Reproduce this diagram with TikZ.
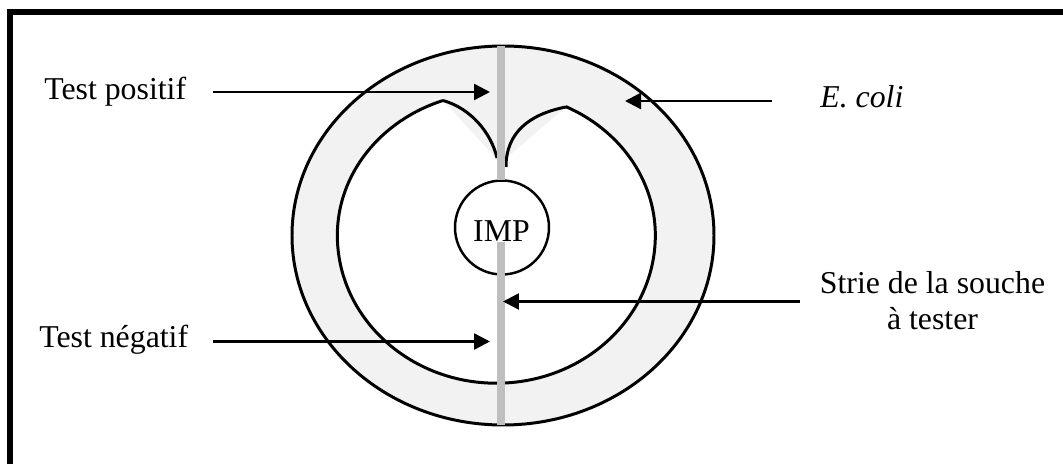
\documentclass[tikz,border=0pt]{standalone}
\usepackage{fontspec}
\setmainfont{Liberation Serif}
\usetikzlibrary{arrows.meta}
\tikzset{
  plate/.style={line width=1.7pt},
  strie/.style={line width=4.3pt,color=stria},
  pointer/.style={line width=1.5pt,-{Triangle[length=0.32cm,width=0.32cm]}},
  legend/.style={inner sep=0pt,font=\fontsize{18.1}{21}\selectfont}
}
\definecolor{stria}{HTML}{BFBFBF}
\definecolor{lawn}{HTML}{F2F2F2}

\begin{document}
\begin{tikzpicture}[x=0.02cm,y=0.02cm]
        \useasboundingbox (0,0) rectangle (1063,464);
        %frame
        \draw[line width=3.7pt] (10,0) -- (10,452) -- (1063,452);
        %lawn
        \draw[plate,fill=lawn] (503,228.5) ellipse [x radius=211,y radius=189.5];
        \fill[white] (443,363.5) -- (496.5,305) -- (502,302) -- (566,357)
            arc[start angle=64.1,end angle=0,x radius=159,y radius=143]
            arc[start angle=360,end angle=180,x radius=159,y radius=148]
            arc[start angle=180,end angle=109.6,x radius=159,y radius=143];
        %inhibition edge
        \draw[plate] (443,363.5)
            arc[start angle=109.6,end angle=180,x radius=159,y radius=143]
            arc[start angle=180,end angle=360,x radius=159,y radius=148]
            arc[start angle=0,end angle=64.1,x radius=159,y radius=143];
        \draw[plate] (443,363.5) .. controls (470,356) and (491,332) .. (497,306);
        \draw[plate] (566,357) .. controls (530,350) and (506,332) .. (506,297);
        %disc
        \node[draw,circle,line width=1.4pt,minimum size=1.88cm,inner sep=0pt] (imp) at (502,236.5) {};
        \node[legend] (imptext) at (501.5,233) {IMP};
        %strains
        \draw[strie] (501,418) -- (501,284);
        \draw[strie] (501,222) -- (501,39);
        %labels
        \node[legend,anchor=base west] (positif) at (44,364) {Test positif};
        \node[legend,anchor=base west] (negatif) at (39,117) {Test négatif};
        \node[legend,anchor=base west] (coli) at (820,357) {\textit{E. coli}};
        \node[legend,align=center,anchor=base] (souche) at (932.5,134) {Strie de la souche\\à tester};
        %arrows
        \coordinate (positifa) at (213,372);
        \coordinate (positifb) at (490,372);
        \coordinate (negatifa) at (213,122.5);
        \coordinate (negatifb) at (490,122.5);
        \coordinate (colia) at (772,363);
        \coordinate (colib) at (625,363);
        \coordinate (souchea) at (800,162.5);
        \coordinate (soucheb) at (503,162.5);
        \draw[pointer] (positifa) -- (positifb);
        \draw[pointer] (negatifa) -- (negatifb);
        \draw[pointer] (colia) -- (colib);
        \draw[pointer] (souchea) -- (soucheb);
\end{tikzpicture}
\end{document}
